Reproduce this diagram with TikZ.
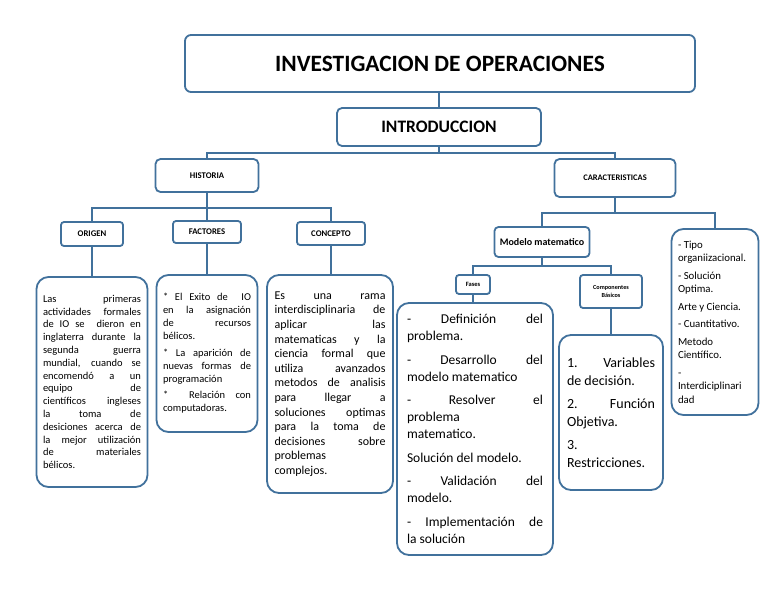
\documentclass[tikz,border=0pt]{standalone}
\usepackage{fontspec}
\setmainfont{Carlito}
\definecolor{bd}{HTML}{41719C}
\newcommand\mysetup{\hyphenpenalty=10000 \exhyphenpenalty=10000 \tolerance=10000 \setlength{\parindent}{0pt}}
\tikzset{
  box/.style={draw=bd, line width=1.8pt, fill=white, rounded corners=#1, inner sep=0pt, align=center},
  tbox/.style={draw=bd, line width=1.8pt, fill=white, rounded corners=12pt, inner sep=0pt, text width=#1, align=justify},
  conn/.style={draw=bd, line width=1.8pt},
  fs/.style 2 args={font=\fontsize{#1}{#2}\selectfont},
  lbl/.style={font=\fontsize{8.7}{10}\selectfont\bfseries},
}
\begin{document}
\begin{tikzpicture}[x=1pt,y=-1pt]
\useasboundingbox (0,0) rectangle (768,594);
\fill[white] (0,0) rectangle (768,594);
% top
\node[box=6pt, minimum width=510pt, minimum height=57pt, font=\fontsize{23.4}{26}\selectfont\bfseries] (title) at (440,63.5) {INVESTIGACION DE OPERACIONES};
\node[box=5pt, minimum width=204pt, minimum height=38pt, font=\fontsize{17.5}{20}\selectfont\bfseries] (intro) at (439,127) {INTRODUCCION};
\node[box=5pt, minimum width=103pt, minimum height=33pt, lbl] (hist) at (207,175.5) {HISTORIA};
\node[box=5pt, minimum width=121pt, minimum height=38pt, font=\fontsize{8.5}{10}\selectfont\bfseries] (carac) at (615,178) {CARACTERISTICAS};
% historia branch
\node[box=3pt, minimum width=62pt, minimum height=24pt, lbl] (origen) at (92,234) {ORIGEN};
\node[box=3pt, minimum width=68pt, minimum height=22pt, lbl] (factores) at (207,232) {FACTORES};
\node[box=3pt, minimum width=68pt, minimum height=23pt, lbl] (concepto) at (331,233.5) {CONCEPTO};
% caracteristicas branch
\node[box=4pt, minimum width=95pt, minimum height=30pt, font=\fontsize{10}{12}\selectfont\bfseries] (modelo) at (542,242) {Modelo matematico};
\node[box=3pt, minimum width=34pt, minimum height=19pt, font=\fontsize{6.5}{7.5}\selectfont\bfseries] (fases) at (473,284.5) {Fases};
\node[box=3pt, minimum width=62pt, minimum height=33pt, font=\fontsize{6.2}{7.5}\selectfont\bfseries] (comp) at (611,291.5) {Componentes\\Básicos};
% text boxes
\node[tbox=98pt, minimum width=111pt, minimum height=210pt, fs={10.5}{12.8}] (torigen) at (92,382) {\mysetup Las primeras\linebreak actividades formales\linebreak de IO se\ \ dieron en\linebreak inglaterra durante la\linebreak segunda guerra\linebreak mundial, cuando se\linebreak encomendó a un\linebreak equipo de\linebreak científicos ingleses\linebreak la toma de\linebreak desiciones acerca de\linebreak la mejor utilización\linebreak de materiales\linebreak bélicos.};
\node[tbox=88pt, minimum width=101pt, minimum height=157pt, fs={10.5}{13}] (tfact) at (207,353.5) {\mysetup\setlength{\parskip}{3.5pt}* El Exito de\ \ IO\linebreak en la asignación\linebreak de recursos\linebreak bélicos.\par * La aparición de\linebreak nuevas formas de\linebreak programación\par *\ \ Relación con\linebreak computadoras.\par\vspace*{26pt}};
\node[tbox=111pt, minimum width=126pt, minimum height=218pt, fs={12}{14.6}] (tconc) at (330,384) {\mysetup Es una rama\linebreak interdisciplinaria de\linebreak aplicar las\linebreak matematicas y la\linebreak ciencia formal que\linebreak utiliza avanzados\linebreak metodos de analisis\linebreak para llegar a\linebreak soluciones optimas\linebreak para la toma de\linebreak decisiones sobre\linebreak problemas\linebreak complejos.};
\node[tbox=136pt, minimum width=156pt, minimum height=252pt, fs={13.5}{17}] (tfases) at (475,429) {\mysetup\setlength{\parskip}{6.5pt}- Definición del\linebreak problema.\par - Desarrollo del\linebreak modelo matematico\par - Resolver el\linebreak problema\linebreak matematico.\par Solución del modelo.\par - Validación del\linebreak modelo.\par - Implementación de\linebreak la solución};
\node[tbox=88pt, minimum width=104pt, minimum height=155pt, fs={14}{18}] (tcomp) at (611,412.5) {\mysetup\setlength{\parskip}{5pt}1. Variables\linebreak de decisión.\par 2. Función\linebreak Objetiva.\par 3.\linebreak Restricciones.};
\node[tbox=74pt, minimum width=87pt, minimum height=186pt, fs={10.8}{13.5}] (tcarac) at (715,322) {\mysetup\raggedright\setlength{\parskip}{4pt}- Tipo\newline organiizacional.\par - Solución\newline Optima.\par Arte y Ciencia.\par - Cuantitativo.\par Metodo\newline Científico.\par -\newline Interdiciplinari\newline dad\par};
% connectors
\coordinate (b1) at (439,153);
\coordinate (b2) at (207,208);
\coordinate (b3) at (615,213);
\coordinate (b4) at (542,266);
\draw[conn] (intro.north) -- (intro.north |- title.south);
\draw[conn] (intro.south) -- (b1);
\draw[conn] (hist.north) |- (b1) -| (carac.north);
\draw[conn] (hist.south) -- (b2);
\draw[conn] (origen.north) |- (b2) -| (concepto.north);
\draw[conn] (b2) -- (factores.north);
\draw[conn] (origen.south) -- (origen.south |- torigen.north);
\draw[conn] (factores.south) -- (factores.south |- tfact.north);
\draw[conn] (concepto.south) -- (concepto.south |- tconc.north);
\draw[conn] (carac.south) -- (b3);
\draw[conn] (modelo.north) |- (b3) -| (tcarac.north);
\draw[conn] (modelo.south) -- (b4);
\draw[conn] (fases.north) |- (b4) -| (comp.north);
\draw[conn] (fases.south) -- (fases.south |- tfases.north);
\draw[conn] (comp.south) -- (comp.south |- tcomp.north);
\end{tikzpicture}
\end{document}
